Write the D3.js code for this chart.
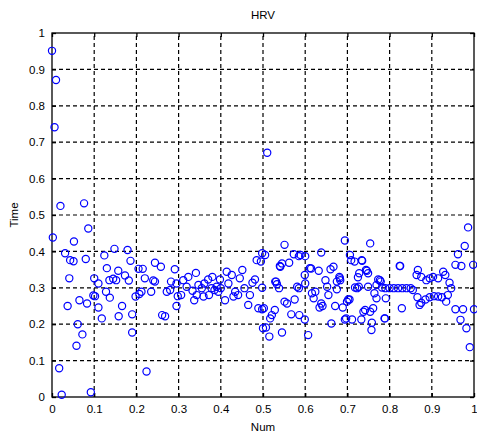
<!DOCTYPE html>
<html><head><meta charset="utf-8">
<script src="https://cdn.jsdelivr.net/npm/d3@7"></script>
<style>body{margin:0;background:#fff}</style>
</head><body>
<script>
const title = "HRV";
const xLabel = "Num";
const yLabel = "Time";
const xTicks = [0,0.1,0.2,0.3,0.4,0.5,0.6,0.7,0.8,0.9,1];
const yTicks = [0,0.1,0.2,0.3,0.4,0.5,0.6,0.7,0.8,0.9,1];
const numX = [
0.0,0.0095,0.006,0.02,0.076,0.086,0.002,0.052,0.031,0.043,0.051,0.080,0.041,0.100,0.037,0.065,0.083,0.098,0.102,0.061,0.072,0.058,0.017,0.023,0.092,
0.11,0.11,0.118,0.124,0.13,0.128,0.137,0.136,0.148,0.145,0.152,0.157,0.166,0.158,0.173,0.179,0.182,0.186,0.19,0.19,0.198,0.205,0.215,0.22,0.224,0.212,0.207,0.235,0.24,0.244,
0.258,0.291,0.244,0.261,0.268,0.282,0.272,0.28,0.295,0.298,0.306,0.295,0.311,0.323,0.319,0.341,0.333,0.337,0.343,0.347,0.355,0.361,0.359,0.37,0.372,0.38,0.378,0.385,0.39,0.398,0.394,0.4,0.414,0.41,0.418,0.426,0.43,0.434,0.445,0.451,0.441,0.456,0.469,0.465,0.475,0.481,0.485,0.495,0.498,0.489,0.498,0.5,0.51,
0.505,0.545,0.562,0.541,0.551,0.573,0.585,0.6,0.638,0.614,0.632,0.599,0.66,0.529,0.533,0.498,0.581,0.585,0.6,0.652,0.616,0.624,0.62,0.575,0.551,0.557,0.638,0.634,0.502,0.528,0.521,0.517,0.567,0.586,0.599,0.662,0.507,0.515,0.545,0.607,0.54,0.531,0.538,0.589,0.611,0.648,0.655,
0.694,0.754,0.667,0.709,0.717,0.735,0.746,0.728,0.725,0.749,0.681,0.683,0.675,0.675,0.723,0.727,0.749,0.671,0.689,0.705,0.699,0.742,0.694,0.711,0.733,0.754,0.758,0.706,0.734,0.744,0.682,0.718,0.702,0.641,0.738,0.697,0.757,
0.986,0.978,0.962,0.956,0.97,0.998,0.824,0.773,0.779,0.769,0.782,0.79,0.80,0.81,0.82,0.83,0.84,0.85,0.867,0.864,0.875,0.887,0.895,0.903,0.915,0.927,0.932,0.942,0.946,0.938,0.934,0.924,0.915,0.905,0.895,0.885,0.875,0.871,0.866,0.855,0.764,0.769,0.761,0.788,0.829,0.956,0.974,1.0,0.968,0.982,0.99,0.777,0.791,0.789,0.825
];
const timeY = [
0.951,0.871,0.741,0.525,0.532,0.463,0.438,0.427,0.395,0.376,0.373,0.379,0.326,0.326,0.25,0.266,0.257,0.279,0.277,0.20,0.172,0.141,0.079,0.006,0.013,
0.312,0.246,0.216,0.389,0.354,0.289,0.273,0.321,0.407,0.325,0.321,0.347,0.25,0.222,0.334,0.404,0.32,0.374,0.227,0.177,0.276,0.352,0.352,0.326,0.07,0.289,0.283,0.289,0.32,0.369,
0.358,0.351,0.317,0.225,0.222,0.317,0.289,0.294,0.312,0.277,0.28,0.25,0.321,0.33,0.303,0.341,0.292,0.266,0.28,0.308,0.299,0.312,0.276,0.323,0.28,0.33,0.299,0.294,0.303,0.323,0.289,0.299,0.344,0.266,0.312,0.335,0.276,0.289,0.326,0.349,0.28,0.299,0.28,0.253,0.314,0.323,0.376,0.372,0.395,0.244,0.241,0.189,0.671,
0.39,0.367,0.369,0.358,0.418,0.392,0.387,0.387,0.397,0.353,0.347,0.335,0.351,0.317,0.31,0.3,0.303,0.299,0.312,0.303,0.285,0.289,0.271,0.268,0.262,0.257,0.257,0.246,0.244,0.239,0.225,0.216,0.227,0.225,0.213,0.202,0.191,0.166,0.177,0.17,0.36,0.317,0.299,0.39,0.354,0.321,0.28,
0.43,0.422,0.358,0.376,0.372,0.374,0.347,0.34,0.329,0.34,0.33,0.321,0.317,0.296,0.299,0.303,0.303,0.25,0.246,0.268,0.262,0.239,0.213,0.213,0.213,0.234,0.204,0.39,0.376,0.349,0.326,0.301,0.268,0.25,0.234,0.216,0.184,
0.466,0.415,0.392,0.363,0.36,0.363,0.36,0.323,0.317,0.308,0.301,0.299,0.299,0.299,0.299,0.299,0.299,0.299,0.349,0.335,0.33,0.321,0.326,0.33,0.326,0.344,0.335,0.314,0.299,0.28,0.262,0.274,0.276,0.277,0.274,0.268,0.259,0.253,0.274,0.294,0.285,0.271,0.244,0.216,0.244,0.241,0.241,0.241,0.212,0.189,0.137,0.321,0.271,0.216,0.36
];

const W = 477, H = 436;
const m = {left:52, right:3, top:33, bottom:39};
const svg = d3.select("body").append("svg").attr("width",W).attr("height",H)
  .style("font-family","'Liberation Sans', Arial, sans-serif");
const x = d3.scaleLinear().domain([0,1]).range([m.left, W-m.right]);
const y = d3.scaleLinear().domain([0,1]).range([H-m.bottom, m.top]);

// grid
const g = svg.append("g");
g.selectAll("line.gx").data(xTicks.slice(1,-1)).join("line")
  .attr("x1",d=>x(d)).attr("x2",d=>x(d)).attr("y1",y(0)).attr("y2",y(1))
  .attr("stroke","#000").attr("stroke-width",1.2).attr("stroke-dasharray","4,3");
g.selectAll("line.gy").data(yTicks.slice(1,-1)).join("line")
  .attr("y1",d=>y(d)).attr("y2",d=>y(d)).attr("x1",x(0)).attr("x2",x(1))
  .attr("stroke","#000").attr("stroke-width",1.2).attr("stroke-dasharray","4,3");

// axes
const fmt = d => d3.format("~g")(d);
svg.append("g").attr("transform",`translate(0,${y(0)})`)
  .call(d3.axisBottom(x).tickValues(xTicks).tickFormat(fmt).tickSizeInner(-4).tickSizeOuter(0).tickPadding(8));
svg.append("g").attr("transform",`translate(${x(0)},0)`)
  .call(d3.axisLeft(y).tickValues(yTicks).tickFormat(fmt).tickSizeInner(-4).tickSizeOuter(0).tickPadding(7));
svg.append("g").attr("transform",`translate(0,${y(1)})`)
  .call(d3.axisTop(x).tickValues(xTicks).tickFormat("").tickSizeInner(-4).tickSizeOuter(0));
svg.append("g").attr("transform",`translate(${x(1)},0)`)
  .call(d3.axisRight(y).tickValues(yTicks).tickFormat("").tickSizeInner(-4).tickSizeOuter(0));
svg.selectAll(".domain").remove();
svg.selectAll(".tick line").attr("stroke","#000").attr("stroke-width",1.3);
svg.selectAll(".tick text").attr("fill","#000").style("font-size","11.5px");

// box
svg.append("rect").attr("x",x(0)).attr("y",y(1)).attr("width",x(1)-x(0)).attr("height",y(0)-y(1))
  .attr("fill","none").attr("stroke","#000").attr("stroke-width",1.3);

// points
const pts = numX.map((v,i)=>({x:v,y:timeY[i]}));
svg.append("g").selectAll("circle").data(pts).join("circle")
  .attr("cx",d=>x(d.x)).attr("cy",d=>y(d.y)).attr("r",3.6)
  .attr("fill","none").attr("stroke","#0000ff").attr("stroke-width",1.2);

// labels
svg.append("text").attr("x",(x(0)+x(1))/2).attr("y",19).attr("text-anchor","middle")
  .style("font-size","11.5px").text(title);
svg.append("text").attr("x",(x(0)+x(1))/2).attr("y",431).attr("text-anchor","middle")
  .style("font-size","11.5px").text(xLabel);
svg.append("text").attr("transform",`translate(18,${(y(0)+y(1))/2}) rotate(-90)`).attr("text-anchor","middle")
  .style("font-size","11.5px").text(yLabel);
</script>
</body></html>
